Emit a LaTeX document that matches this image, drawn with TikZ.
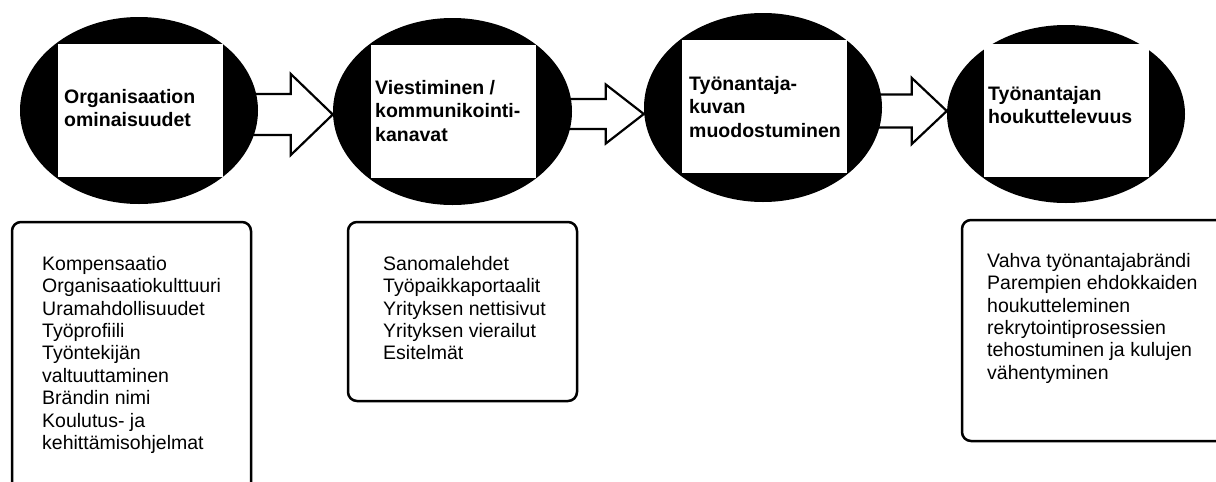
\documentclass[tikz,border=0pt]{standalone}
\usepackage{fontspec}
\setmainfont{Liberation Sans}
\usetikzlibrary{shapes.geometric,backgrounds,calc}
\newcommand\blockarr[6]{% from, to, centre y (px), shaft half, head half, head length
  \draw[blockarrow] let \p1=(#1.center), \p2=(#2.west) in
    (\x1+90pt,-#3pt+#4pt) -- (\x2-#6pt,-#3pt+#4pt) -- (\x2-#6pt,-#3pt+#5pt)
    -- (\x2,-#3pt) -- (\x2-#6pt,-#3pt-#5pt) -- (\x2-#6pt,-#3pt-#4pt)
    -- (\x1+90pt,-#3pt-#4pt) -- cycle;}
\begin{document}
\begin{tikzpicture}[x=1pt,y=-1pt,
  oval/.style={ellipse, fill=black, inner sep=0pt},
  sq/.style={fill=white, inner sep=0pt, minimum width=165pt, minimum height=133pt},
  head/.style={font=\fontsize{19.5}{23.5}\selectfont\bfseries, align=left, anchor=north west, inner sep=0pt},
  body/.style={font=\fontsize{19.5}{22.4}\selectfont, align=left, anchor=north west, inner sep=0pt},
  card/.style={draw=black, line width=2.5pt, rounded corners=9pt, fill=white, inner sep=0pt},
  blockarrow/.style={draw=black, line width=2.2pt, fill=white, line join=miter}]
\useasboundingbox (0,0) rectangle (1216,482);
\clip (0,0) rectangle (1216,482);

% ovals
\node[oval, minimum width=238pt, minimum height=187pt] (e1) at (139,110.5) {};
\node[oval, minimum width=239pt, minimum height=187pt] (e2) at (452.5,111.5) {};
\node[oval, minimum width=238pt, minimum height=189pt] (e3) at (763,107.5) {};
\node[oval, minimum width=238pt, minimum height=178pt] (e4) at (1066,114) {};

% white squares
\node[sq] (s1) at (140,110.5) {};
\node[sq] (s2) at (453.5,111.5) {};
\node[sq] (s3) at (764,106.5) {};
\node[sq] (s4) at (1066,110) {};

% headings
\node[head] (h1) at (64,89) {Organisaation\\ominaisuudet};
\node[head] (h2) at (375,80) {Viestiminen /\\kommunikointi-\\kanavat};
\node[head] (h3) at (689,76) {Työnantaja-\\kuvan\\muodostuminen};
\node[head] (h4) at (988,86) {Työnantajan\\houkuttelevuus};

% block arrows
\begin{pgfonlayer}{background}
\fill[white] (0,0) rectangle (1216,482);
\blockarr{e1}{e2}{114.5}{20.5}{40.5}{42}
\blockarr{e2}{e3}{114}{15}{29.5}{38}
\blockarr{e3}{e4}{111}{16.5}{33}{35}
\end{pgfonlayer}

% cards
\node[card, minimum width=239pt, minimum height=278pt] (c1) at (131.5,361) {};
\node[card, minimum width=229pt, minimum height=179pt] (c2) at (462.5,311.5) {};
\node[card, minimum width=268pt, minimum height=221pt] (c3) at (1096,330.5) {};

\node[body] (b1) at (42,256) {Kompensaatio\\Organisaatiokulttuuri\\Uramahdollisuudet\\Työprofiili\\Työntekijän\\valtuuttaminen\\Brändin nimi\\Koulutus- ja\\kehittämisohjelmat};
\node[body] (b2) at (383,256) {Sanomalehdet\\Työpaikkaportaalit\\Yrityksen nettisivut\\Yrityksen vierailut\\Esitelmät};
\node[body] (b3) at (987,253) {Vahva työnantajabrändi\\Parempien ehdokkaiden\\houkutteleminen\\rekrytointiprosessien\\tehostuminen ja kulujen\\vähentyminen};
\end{tikzpicture}
\end{document}
